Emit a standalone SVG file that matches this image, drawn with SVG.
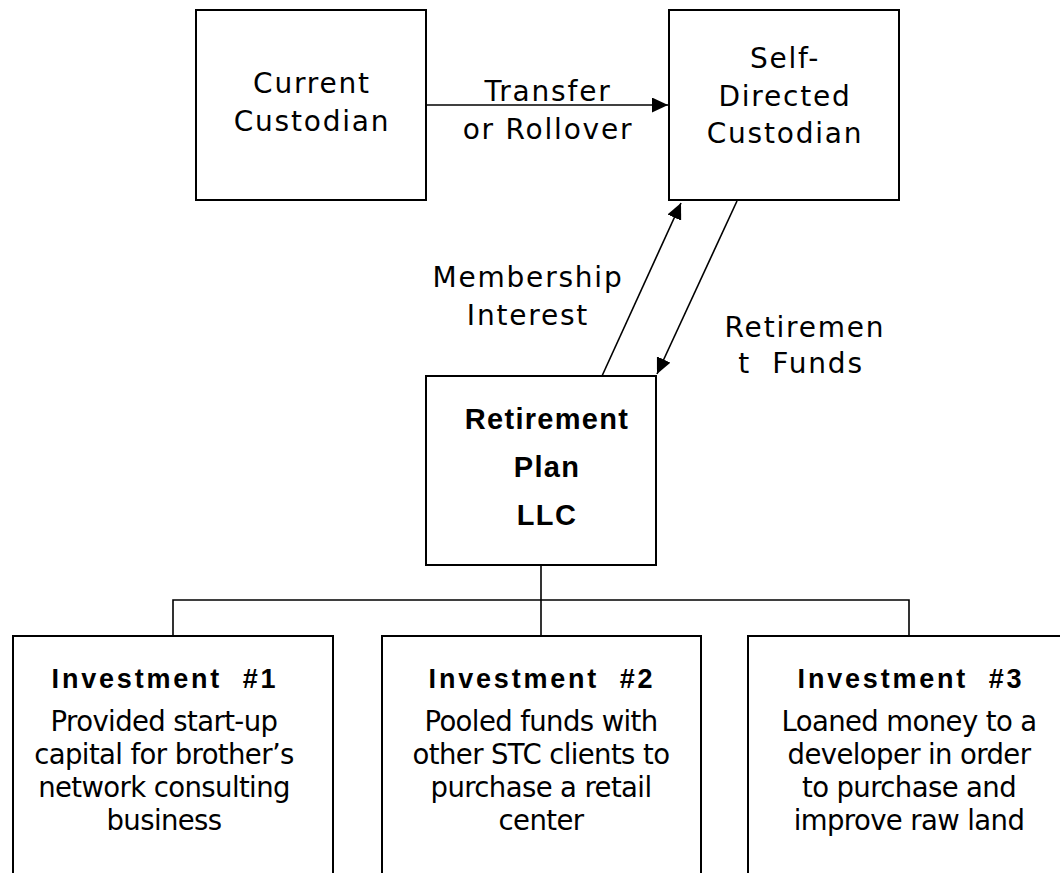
<svg xmlns="http://www.w3.org/2000/svg" width="1060" height="873" viewBox="0 0 1060 873">
<style>
.box{fill:#fff;stroke:#000;stroke-width:2}
.con{fill:none;stroke:#000;stroke-width:1.6}
.lbl{font-family:"DejaVu Sans",Verdana,sans-serif;font-size:28px;letter-spacing:1.8px;fill:#000;text-anchor:middle}
.bold{font-family:"Liberation Sans",Arial,sans-serif;font-weight:bold;font-size:29px;letter-spacing:1.3px;fill:#000;text-anchor:middle}
.head{font-family:"Liberation Sans",Arial,sans-serif;font-weight:bold;font-size:27px;letter-spacing:2.8px;fill:#000;text-anchor:middle}
.body{font-family:"DejaVu Sans",Verdana,sans-serif;font-size:27.5px;letter-spacing:-0.6px;fill:#000;text-anchor:middle}
</style>
<defs>
<marker id="arr" markerUnits="userSpaceOnUse" markerWidth="16" markerHeight="15" refX="16" refY="7.5" orient="auto">
<path d="M0,0 L16,7.5 L0,15 z" fill="#000"/>
</marker>
</defs>
<rect width="1060" height="873" fill="#fff"/>
<g id="connectors">
<line class="con" x1="427" y1="105" x2="668" y2="105" marker-end="url(#arr)"/>
<line class="con" x1="602" y1="376" x2="681" y2="203" marker-end="url(#arr)"/>
<line class="con" x1="737" y1="201" x2="657" y2="374" marker-end="url(#arr)"/>
<polyline class="con" points="173,636 173,600 909,600 909,636"/>
<line class="con" x1="541" y1="565" x2="541" y2="636"/>
<text class="lbl" x="548" y="101">Transfer</text>
<text class="lbl" x="548" y="139">or Rollover</text>
<text class="lbl" x="528" y="287">Membership</text>
<text class="lbl" x="528" y="325">Interest</text>
<text class="lbl" x="805" y="337">Retiremen</text>
<text class="lbl" x="801" y="373" xml:space="preserve">t  Funds</text>
</g>
<g id="current-custodian">
<rect class="box" x="196" y="10" width="230" height="190"/>
<text class="lbl" x="312" y="93">Current</text>
<text class="lbl" x="312" y="131">Custodian</text>
</g>
<g id="self-directed-custodian">
<rect class="box" x="669" y="10" width="230" height="190"/>
<text class="lbl" x="785" y="68">Self-</text>
<text class="lbl" x="785" y="106">Directed</text>
<text class="lbl" x="785" y="143">Custodian</text>
</g>
<g id="retirement-plan-llc">
<rect class="box" x="426" y="376" width="230" height="189"/>
<text class="bold" x="547" y="429">Retirement</text>
<text class="bold" x="547" y="477">Plan</text>
<text class="bold" x="547" y="525">LLC</text>
</g>
<g id="investment-1">
<rect class="box" x="13" y="636" width="320" height="260"/>
<text class="head" x="165" y="688" xml:space="preserve">Investment  #1</text>
<text class="body" x="164" y="731">Provided start-up</text>
<text class="body" x="164" y="764">capital for brother’s</text>
<text class="body" x="164" y="797">network consulting</text>
<text class="body" x="164" y="830">business</text>
</g>
<g id="investment-2">
<rect class="box" x="382" y="636" width="319" height="260"/>
<text class="head" x="542" y="688" xml:space="preserve">Investment  #2</text>
<text class="body" x="541" y="731">Pooled funds with</text>
<text class="body" x="541" y="764">other STC clients to</text>
<text class="body" x="541" y="797">purchase a retail</text>
<text class="body" x="541" y="830">center</text>
</g>
<g id="investment-3">
<rect class="box" x="748" y="636" width="322" height="260"/>
<text class="head" x="911" y="688" xml:space="preserve">Investment  #3</text>
<text class="body" x="909" y="731">Loaned money to a</text>
<text class="body" x="909" y="764">developer in order</text>
<text class="body" x="909" y="797">to purchase and</text>
<text class="body" x="909" y="830">improve raw land</text>
</g>
</svg>
